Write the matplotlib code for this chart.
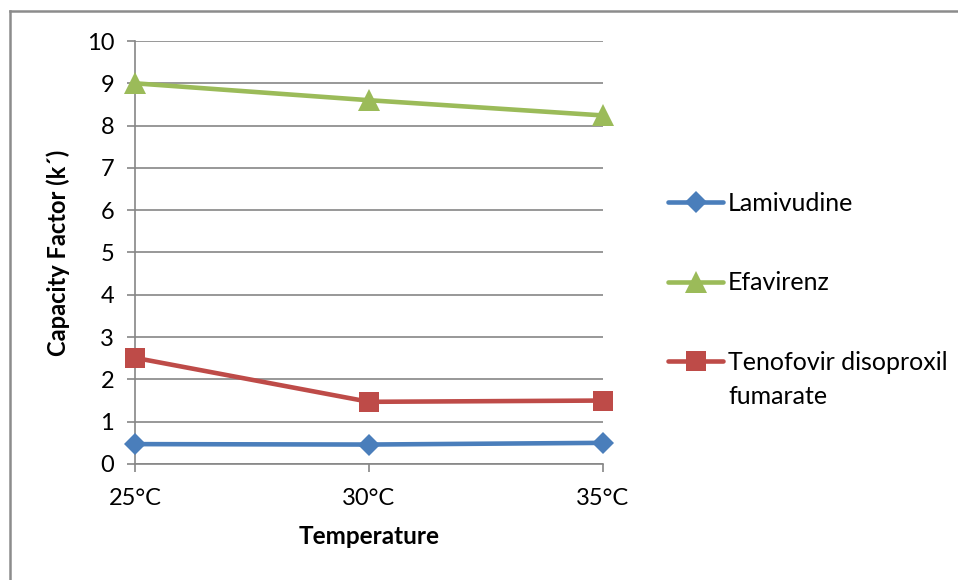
import matplotlib
matplotlib.use("Agg")
import matplotlib.pyplot as plt
from matplotlib.lines import Line2D

plt.rcParams['font.family'] = ['Lato', 'DejaVu Sans']

temperatures = ["25°C", "30°C", "35°C"]
lamivudine = [0.47, 0.46, 0.50]
efavirenz = [9.00, 8.60, 8.24]
tenofovir = [2.51, 1.47, 1.50]

series_names = ["Lamivudine", "Efavirenz", "Tenofovir disoproxil"]
series_values = [lamivudine, efavirenz, tenofovir]
series_colors = ["#4A7EBB", "#9BBB59", "#BE4B48"]
series_markers = ["D", "^", "s"]
marker_sizes = [11.5, 16, 14]

fig = plt.figure(figsize=(9.58, 5.8), dpi=100)
ax = fig.add_axes([135 / 958, 1 - 464 / 580, (603 - 135) / 958, (464 - 41) / 580])

x = list(range(len(temperatures)))
for name, vals, c, m, ms in zip(series_names, series_values, series_colors,
                                series_markers, marker_sizes):
    ax.plot(x, vals, color=c, lw=3.3, marker=m, markersize=ms,
            markeredgewidth=0, label=name, solid_capstyle='round', zorder=3,
            clip_on=False)

ax.set_xlim(0, 2)
ax.set_ylim(0, 10)
ax.set_yticks(range(0, 11))
ax.set_xticks(x)
ax.set_xticklabels(temperatures)

grid_col = "#868686"
ax.yaxis.grid(True, color=grid_col, lw=1.2)
ax.set_axisbelow(True)
for s in ["top", "right"]:
    ax.spines[s].set_visible(False)
for s in ["left", "bottom"]:
    ax.spines[s].set_color(grid_col)
    ax.spines[s].set_linewidth(1.2)
ax.tick_params(axis='y', length=6, width=1.2, color=grid_col, pad=9,
               labelsize=17, direction='out')
ax.tick_params(axis='x', length=6, width=1.2, color=grid_col, pad=11,
               labelsize=17, direction='out')

ax.set_ylabel("Capacity Factor (k´)", fontsize=17, fontweight='bold', labelpad=12)
ax.set_xlabel("Temperature", fontsize=17.5, fontweight='bold', labelpad=12)

leg = ax.legend(loc='center left', bbox_to_anchor=(668 / 958, 1 - 283 / 580),
                bbox_transform=fig.transFigure, frameon=False, fontsize=18,
                handlelength=2.2, handletextpad=0.2, labelspacing=2.25,
                borderpad=0, borderaxespad=0)
# second line of the last legend label
fig.text(728 / 958, 1 - 396 / 580, "fumarate", fontsize=18, va='center', ha='left')

# frame lines along the top and left edge of the figure
fig.add_artist(Line2D([10 / 958, 10 / 958], [0, 1 - 11 / 580],
                      transform=fig.transFigure, color="#8C8C8C", lw=1.8))
fig.add_artist(Line2D([10 / 958, 1], [1 - 11 / 580, 1 - 11 / 580],
                      transform=fig.transFigure, color="#8C8C8C", lw=1.8))

fig.savefig("out.png", dpi=100, facecolor="white")
